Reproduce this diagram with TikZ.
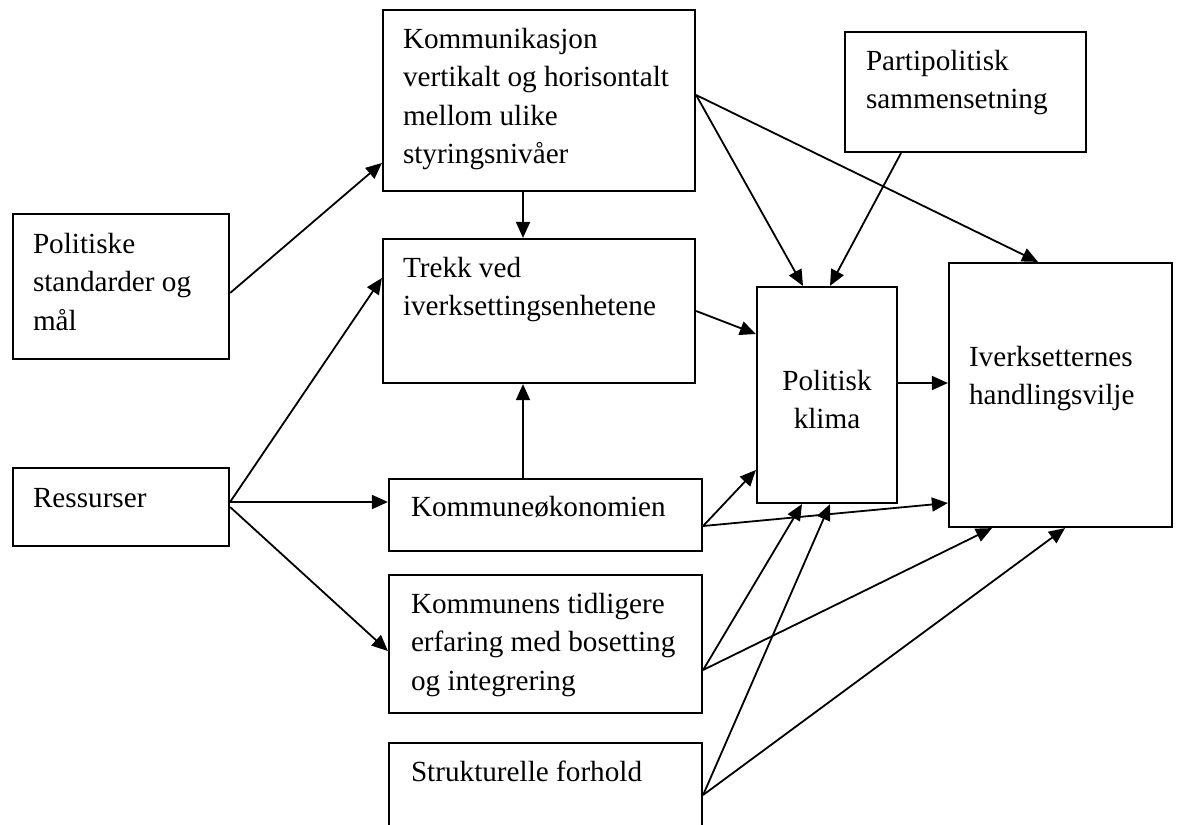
\documentclass[tikz,border=0pt]{standalone}
\usepackage{fontspec}
\setmainfont{Liberation Serif}
\usetikzlibrary{arrows.meta,calc}
\begin{document}
\begin{tikzpicture}[x=1pt,y=-1pt,
  box/.style={draw, line width=2.2pt, rectangle, inner sep=0pt, outer sep=1.1pt},
  txt/.style={inner sep=0pt, outer sep=0pt, align=left, anchor=north west, font=\fontsize{29.2}{38.5}\selectfont},
  ctxt/.style={txt, align=center, anchor=north},
  conn/.style={line width=1.8pt, -{Triangle[length=16pt,width=14pt]}},
  link/.style={line width=1.8pt}]
\fill[white] (0,0) rectangle (1184,825);
\clip (0,0) rectangle (1184,825);
% boxes
\node[box, minimum width=312pt, minimum height=181pt] (komm) at (539,100.5) {};
\node[box, minimum width=241pt, minimum height=120pt] (parti) at (965.5,92) {};
\node[box, minimum width=216pt, minimum height=145pt] (polstd) at (121,286.5) {};
\node[box, minimum width=312pt, minimum height=144pt] (trekk) at (539,311) {};
\node[box, minimum width=140pt, minimum height=216pt] (klima) at (827,395) {};
\node[box, minimum width=223pt, minimum height=264pt] (iverk) at (1060.5,395) {};
\node[box, minimum width=216pt, minimum height=78pt] (ress) at (121,507) {};
\node[box, minimum width=313pt, minimum height=72pt] (okon) at (545.5,515) {};
\node[box, minimum width=313pt, minimum height=138pt] (erfar) at (545.5,644) {};
\node[box, minimum width=313pt, minimum height=117pt] (strukt) at (545.5,801.5) {};
% texts
\node[txt] (kommT) at (403,21.05) {\strut Kommunikasjon\\\strut vertikalt og horisontalt\\\strut mellom ulike\\\strut styringsnivåer};
\node[txt] (partiT) at (866,43.05) {\strut Partipolitisk\\\strut sammensetning};
\node[txt] (polstdT) at (33,226.05) {\strut Politiske\\\strut standarder og\\\strut mål};
\node[txt] (trekkT) at (403,250.05) {\strut Trekk ved\\\strut iverksettingsenhetene};
\node[ctxt] (klimaT) at (827,363.05) {\strut Politisk\\\strut klima};
\node[txt] (iverkT) at (969,339.05) {\strut Iverksetternes\\\strut handlingsvilje};
\node[txt] (ressT) at (33,480.05) {\strut Ressurser};
\node[txt] (okonT) at (411,489.05) {\strut Kommuneøkonomien};
\node[txt] (erfarT) at (411,586.05) {\strut Kommunens tidligere\\\strut erfaring med bosetting\\\strut og integrering};
\node[txt] (struktT) at (411,754.05) {\strut Strukturelle forhold};
% connectors
\draw[conn] (polstd.east |- 0,293) -- (komm.west |- 0,163);
\draw[conn] (ress.east |- 0,502) -- (trekk.west |- 0,278);
\draw[conn] (ress.east |- 0,502) -- (okon.west |- 0,502);
\draw[conn] (ress.east |- 0,507) -- (erfar.west |- 0,651);
\draw[conn] (komm.south -| 523,0) -- (trekk.north -| 523,0);
\draw[conn] (okon.north -| 523,0) -- (trekk.south -| 523,0);
\draw[conn] (komm.east |- 0,95) -- (klima.north -| 803,0);
\draw[conn] (komm.east |- 0,95) -- (iverk.north -| 1038,0);
\draw[conn] (parti.south -| 901,0) -- (klima.north -| 830,0);
\draw[conn] (trekk.east |- 0,311) -- (klima.west |- 0,334);
\draw[conn] (klima.east |- 0,383) -- (iverk.west |- 0,383);
\draw[conn] (okon.east |- 0,526) -- (klima.west |- 0,470);
\draw[conn] (okon.east |- 0,526) -- (iverk.west |- 0,503);
\draw[conn] (erfar.east |- 0,670) -- (klima.south -| 802,0);
\draw[conn] (erfar.east |- 0,670) -- (iverk.south -| 992,0);
\draw[conn] (strukt.east |- 0,795) -- (klima.south -| 830,0);
\draw[conn] (strukt.east |- 0,795) -- (iverk.south -| 1065,0);
\end{tikzpicture}
\end{document}
